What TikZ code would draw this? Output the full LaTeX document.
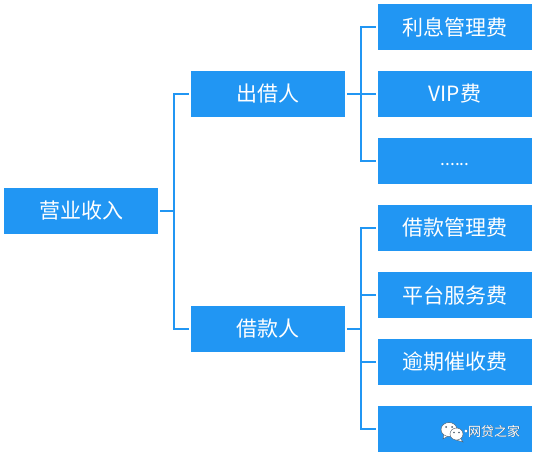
\documentclass[tikz,border=0pt]{standalone}
\usepackage{fontspec}
\setmainfont{Noto Sans CJK SC}
\definecolor{boxblue}{HTML}{2196F3}
\definecolor{wm}{HTML}{4A5A68}
\tikzset{x=0.75pt,y=-0.75pt,
  card/.style={fill=boxblue,text=white,minimum width=115.5pt,minimum height=34.5pt,inner sep=0pt,font=\fontsize{15.75pt}{18pt}\selectfont,anchor=center},
  link/.style={draw=boxblue,line width=1.5pt,shorten <=1.5pt,shorten >=1.5pt},
  bubble/.style={fill=white,draw=wm,line width=0.3pt}}
\begin{document}
\begin{tikzpicture}
\useasboundingbox (0,0) rectangle (538,456);
\fill[white] (0,0) rectangle (538,456);
\node[card] (root) at (81,211) {营业收入};
\node[card] (lender) at (268,94) {出借人};
\node[card] (borrower) at (268,329) {借款人};
\node[card] (a1) at (455,27) {利息管理费};
\node[card] (a2) at (455,94) {VIP费};
\node[card] (a3) at (455,161) {};
\node[font=\fontsize{13pt}{14pt}\selectfont,text=white,inner sep=0pt] (dots) at (455,165) {......};
\node[card] (b1) at (455,228) {借款管理费};
\node[card] (b2) at (455,295) {平台服务费};
\node[card] (b3) at (455,362) {逾期催收费};
\node[card] (b4) at (455,429) {};
\draw[link] (root.east) -- +(16,0) |- (lender.west);
\draw[link] (root.east) -- +(16,0) |- (borrower.west);
\foreach \t in {a1,a2,a3} \draw[link] (lender.east) -- +(16,0) |- (\t.west);
\foreach \t in {b1,b2,b3,b4} \draw[link] (borrower.east) -- +(16,0) |- (\t.west);
% watermark icon
\path[bubble] (444,434) -- (443,439) -- (448,436) -- cycle;
\path[bubble] (449,429.5) ellipse (8 and 7);
\fill[wm] (446,427) circle (1) (452,427) circle (1);
\path[bubble] (460,438) -- (463,442) -- (456,440) -- cycle;
\path[bubble] (456.5,434) ellipse (6.5 and 6);
\fill[wm] (454,432.5) circle (0.8) (459,432.5) circle (0.8);
\node[font=\fontsize{9.75pt}{11pt}\selectfont,text=wm,inner sep=0pt] (wmshadow) at (495,432) {\kern-0.7em ·\kern-0.35em 网贷之家};
\node[font=\fontsize{9.75pt}{11pt}\selectfont,text=white,inner sep=0pt] (wmark) at (494.5,431.5) {\kern-0.7em ·\kern-0.35em 网贷之家};
\end{tikzpicture}
\end{document}
